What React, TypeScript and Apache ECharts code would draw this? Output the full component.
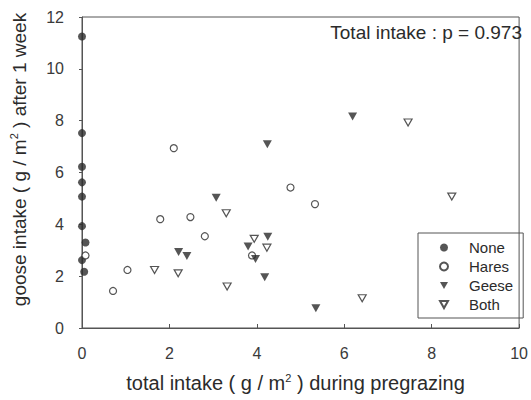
import React, { useEffect, useRef } from "react";
import * as echarts from "echarts";

const noneData: number[][] = [[0, 11.25], [0, 7.52], [0, 6.22], [0, 5.62], [0, 5.07], [0, 3.93], [0.08, 3.3], [0, 2.62], [0.05, 2.17]];
const haresData: number[][] = [[0.08, 2.8], [0.71, 1.43], [1.04, 2.24], [1.79, 4.2], [2.1, 6.94], [2.48, 4.28], [2.81, 3.54], [3.89, 2.8], [4.77, 5.42], [5.33, 4.78]];
const geeseData: number[][] = [[2.21, 2.93], [2.4, 2.78], [3.07, 5.03], [3.8, 3.14], [3.97, 2.66], [4.18, 1.96], [4.25, 3.52], [4.24, 7.09], [5.35, 0.76], [6.19, 8.16]];
const bothData: number[][] = [[1.66, 2.24], [2.2, 2.11], [3.3, 4.43], [3.32, 1.6], [3.94, 3.44], [4.23, 3.1], [6.41, 1.15], [7.46, 7.93], [8.46, 5.07]];
const seriesNames = ["None", "Hares", "Geese", "Both"];
const titleText = "Total intake : p = 0.973";

const FONT = "Liberation Sans, Arial, sans-serif";
const INK = "#2b2b2b";
const TRI = "path://M0,0 L10,0 L5,9 Z";

export default function App() {
  const ref = useRef<HTMLDivElement>(null);
  useEffect(() => {
    if (!ref.current) return;
    const chart = echarts.init(ref.current, null, { renderer: "svg" });
    const sup = { fontSize: 11, verticalAlign: "top", padding: [0, 0, 11, 0], fontFamily: FONT, color: INK };
    chart.setOption({
      animation: false,
      textStyle: { fontFamily: FONT },
      title: {
        text: titleText,
        right: 9,
        top: 23,
        padding: 0,
        textStyle: { fontSize: 19, fontWeight: "normal", color: INK, fontFamily: FONT },
      },
      grid: { left: 80, right: 5, top: 17, bottom: 72, show: true, borderColor: "#555", borderWidth: 1 },
      legend: {
        orient: "vertical",
        left: 418,
        top: 233,
        width: 104,
        padding: [7, 10, 6, 21],
        borderColor: "#555",
        borderWidth: 1,
        itemGap: 4,
        itemWidth: 8,
        itemHeight: 8,
        data: seriesNames,
        textStyle: { fontSize: 15, color: INK, fontFamily: FONT, padding: [0, 0, 0, 16] },
      },
      xAxis: {
        type: "value",
        min: 0,
        max: 10,
        interval: 2,
        name: "total intake ( g / m{sup|2} ) during pregrazing",
        nameLocation: "middle",
        nameGap: 44,
        nameTextStyle: { fontSize: 20, color: INK, fontFamily: FONT, rich: { sup }, padding: [0, 10, 0, 0] },
        axisLine: { lineStyle: { color: "#555" } },
        axisTick: { inside: true, length: 4, lineStyle: { color: "#555" } },
        axisLabel: { fontSize: 16, color: "#3a3a3a", margin: 17, fontFamily: FONT },
        splitLine: { show: false },
      },
      yAxis: {
        type: "value",
        min: 0,
        max: 12,
        interval: 2,
        name: "goose intake ( g / m{sup|2} ) after 1 week",
        nameLocation: "middle",
        nameGap: 52,
        nameTextStyle: { fontSize: 19, color: INK, fontFamily: FONT, rich: { sup }, padding: [0, 0, 0, 26] },
        axisLine: { show: true, lineStyle: { color: "#555" } },
        axisTick: { show: true, length: 3, lineStyle: { color: "#555" } },
        axisLabel: { fontSize: 16, color: "#3a3a3a", margin: 18, fontFamily: FONT },
        splitLine: { show: false },
      },
      series: [
        {
          name: "None",
          type: "scatter",
          data: noneData,
          symbol: "circle",
          symbolSize: 8,
          itemStyle: { color: INK },
        },
        {
          name: "Hares",
          type: "scatter",
          data: haresData,
          symbol: "circle",
          symbolSize: 7,
          itemStyle: { color: "#fff", borderColor: INK, borderWidth: 1.2 },
        },
        {
          name: "Geese",
          type: "scatter",
          data: geeseData,
          symbol: TRI,
          symbolSize: [9, 8],
          itemStyle: { color: INK },
        },
        {
          name: "Both",
          type: "scatter",
          data: bothData,
          symbol: TRI,
          symbolSize: [8, 7],
          itemStyle: { color: "#fff", borderColor: INK, borderWidth: 1.2 },
        },
      ],
    });
    return () => chart.dispose();
  }, []);
  return <div ref={ref} style={{ width: 531, height: 400, position: "absolute", left: 0, top: 0 }} />;
}
